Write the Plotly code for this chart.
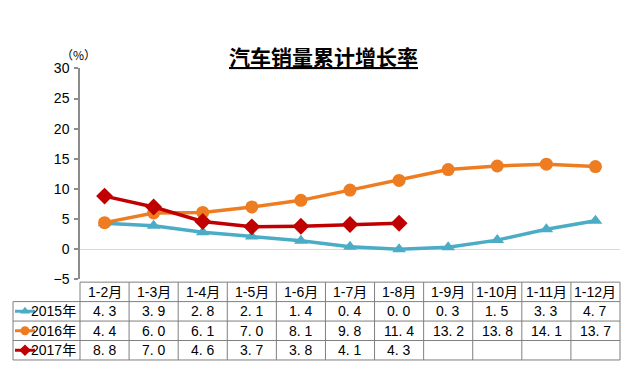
import plotly.graph_objects as go

# ---------------- data ----------------
months = ["1-2月", "1-3月", "1-4月", "1-5月", "1-6月", "1-7月", "1-8月",
          "1-9月", "1-10月", "1-11月", "1-12月"]
series_names = ["2015年", "2016年", "2017年"]
v2015 = [4.3, 3.9, 2.8, 2.1, 1.4, 0.4, 0.0, 0.3, 1.5, 3.3, 4.7]
v2016 = [4.4, 6.0, 6.1, 7.0, 8.1, 9.8, 11.4, 13.2, 13.8, 14.1, 13.7]
v2017 = [8.8, 7.0, 4.6, 3.7, 3.8, 4.1, 4.3]
y_ticks = [-5, 0, 5, 10, 15, 20, 25, 30]
title_text = "汽车销量累计增长率"
unit_text = "（%）"

# ---------------- style ----------------
W, H = 640, 386
colors = ["#4BACC6", "#EE7D22", "#C00000"]
symbols = ["triangle-up", "circle", "diamond"]
msizes = [12, 13, 13]
series_vals = [v2015, v2016, v2017]

PX_L, PX_R = 80, 620      # plot area left/right (px)
PX_T, PX_B = 63, 283      # plot area top/bottom (px)
TBL_TOP = 286
ROW_H = 20.3
LEG_L = 13
border = "#7F7F7F"
cjk = "Liberation Sans, Noto Sans CJK SC, sans-serif"
tsize = 14


def px(xp):
    return xp / W


def py(yp):
    return (H - yp) / H


n = len(months)
col_w = (PX_R - PX_L) / n

fig = go.Figure()

# main series
for name, vals, c, s, ms in zip(series_names, series_vals, colors, symbols, msizes):
    fig.add_trace(go.Scatter(
        x=list(range(len(vals))), y=vals, name=name, mode="lines+markers",
        line=dict(color=c, width=3.5),
        marker=dict(symbol=s, size=ms, color=c),
        cliponaxis=False, showlegend=False, xaxis="x", yaxis="y"))

# legend icons inside table (separate small axes)
for i, (name, c, s) in enumerate(zip(series_names, colors, symbols)):
    fig.add_trace(go.Scatter(
        x=[0, 0.5, 1], y=[i + 0.5] * 3, mode="lines",
        line=dict(color=c, width=3), showlegend=False,
        cliponaxis=False, xaxis="x2", yaxis="y2", hoverinfo="skip"))
    fig.add_trace(go.Scatter(
        x=[0.5], y=[i + 0.5], mode="markers",
        marker=dict(symbol=s, size=9, color=c), showlegend=False,
        cliponaxis=False, xaxis="x2", yaxis="y2", hoverinfo="skip"))

shapes = []
annotations = []
rows = len(series_names)
y_hdr_bot = TBL_TOP + ROW_H
y_bot = TBL_TOP + ROW_H * (rows + 1)

# horizontal lines
shapes.append(dict(type="line", xref="paper", yref="paper",
                   x0=px(PX_L), x1=px(PX_R), y0=py(TBL_TOP), y1=py(TBL_TOP),
                   line=dict(color=border, width=1)))
for r in range(rows + 1):
    yy = TBL_TOP + ROW_H * (r + 1)
    shapes.append(dict(type="line", xref="paper", yref="paper",
                       x0=px(LEG_L), x1=px(PX_R), y0=py(yy), y1=py(yy),
                       line=dict(color=border, width=1)))
# vertical lines
shapes.append(dict(type="line", xref="paper", yref="paper",
                   x0=px(LEG_L), x1=px(LEG_L), y0=py(y_hdr_bot), y1=py(y_bot),
                   line=dict(color=border, width=1)))
for i in range(n + 1):
    xx = PX_L + col_w * i
    shapes.append(dict(type="line", xref="paper", yref="paper",
                       x0=px(xx), x1=px(xx), y0=py(TBL_TOP), y1=py(y_bot),
                       line=dict(color=border, width=1)))

# header text
for i, m in enumerate(months):
    annotations.append(dict(text=m, xref="paper", yref="paper",
                            x=px(PX_L + col_w * (i + 0.5)), y=py(TBL_TOP + ROW_H / 2),
                            showarrow=False, xanchor="center", yanchor="middle",
                            font=dict(family=cjk, size=tsize, color="#000")))
# values
for r, vals in enumerate(series_vals):
    ycen = TBL_TOP + ROW_H * (r + 1.5)
    for i, v in enumerate(vals):
        annotations.append(dict(text=f"{v:.1f}".replace(".", ". "), xref="paper", yref="paper",
                                x=px(PX_L + col_w * (i + 0.5)), y=py(ycen),
                                showarrow=False, xanchor="center", yanchor="middle",
                                font=dict(family=cjk, size=tsize, color="#000")))
    annotations.append(dict(text=series_names[r], xref="paper", yref="paper",
                            x=px(PX_L - 2), y=py(ycen), showarrow=False,
                            xanchor="right", yanchor="middle",
                            font=dict(family=cjk, size=tsize, color="#000")))

# title and unit
annotations.append(dict(text=f"<b><u>{title_text}</u></b>", xref="paper", yref="paper",
                        x=px(323), y=py(50), showarrow=False, xanchor="center",
                        yanchor="middle",
                        font=dict(family="Noto Sans CJK SC", size=21, color="#000")))
annotations.append(dict(text=unit_text, xref="paper", yref="paper",
                        x=px(78), y=py(48), showarrow=False, xanchor="center",
                        yanchor="middle",
                        font=dict(family="Noto Sans CJK SC", size=12, color="#000")))

fig.update_layout(
    width=W, height=H,
    margin=dict(l=0, r=0, t=0, b=0),
    paper_bgcolor="white", plot_bgcolor="white",
    xaxis=dict(domain=[px(PX_L), px(PX_R)], range=[-0.5, n - 0.5],
               visible=False, fixedrange=True),
    yaxis=dict(domain=[py(PX_B), py(PX_T)], range=[-5, 30], tickvals=y_ticks,
               showgrid=False, zeroline=True, zerolinecolor="#D9D9D9", zerolinewidth=1,
               showline=True, linecolor="#8C8C8C", linewidth=1.5,
               ticks="outside", ticklen=4, tickcolor="#8C8C8C", tickwidth=1.5,
               tickfont=dict(family="Liberation Sans", size=14, color="#000"),
               ticklabelstandoff=2),
    xaxis2=dict(domain=[px(15), px(35)], range=[0, 1], visible=False, anchor="y2"),
    yaxis2=dict(domain=[py(y_bot), py(y_hdr_bot)], range=[rows, 0], visible=False,
                anchor="x2"),
    shapes=shapes, annotations=annotations,
    showlegend=False,
)

fig.write_html("out.html")
